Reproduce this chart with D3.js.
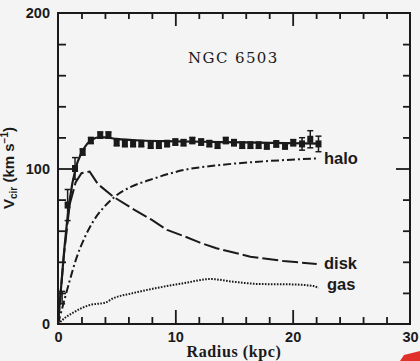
<!DOCTYPE html>
<html><head><meta charset="utf-8">
<script src="https://cdn.jsdelivr.net/npm/d3@7"></script>
<style>
html,body{margin:0;padding:0;background:#f4f4f4;}
svg{display:block;}
</style></head>
<body>
<script>
// ---- data ----
const obsR   = [0.35,0.82,1.45,2.1,2.8,3.6,4.3,5.0,5.7,6.4,7.1,7.9,8.6,9.3,10.0,10.7,11.45,12.2,12.9,13.6,14.3,15.0,15.7,16.4,17.1,17.8,18.6,19.35,20.05,20.8,21.5,22.2];
const obsV   = [17,76.5,100,110.6,118,121.5,121.5,116.6,116,116,116,115,115,116,117,116.6,118,117,116,115,118,116.6,115,115,115,114.5,115.8,114.5,116.6,115.8,118.8,115.8];
const obsErr = [4,10,7,2,2,2,2,2,2,2,2,2,2,2,2,2,2,2,2,2,2,2,2,2,2,2,2,2,2,4,5.5,5];

const totalR = [0,0.5,1,1.5,2,2.5,3,3.5,4,5,7,10,14,18,22.3];
const totalV = [0,45,80,100,110,116,119,120,120,119,118,117.5,117,116.5,116];

const haloR = [0,0.6,1.0,1.6,2.3,3.0,3.9,4.86,6.3,7.8,10.7,13.5,16.4,19.5,22.2];
const haloV = [0,17,28,43,56,66,75,82,88.5,92.6,99,102,104,105.5,106.5];

const diskR = [0,0.5,1,1.5,2,2.7,3.4,4.7,6.3,8.0,9.3,10.7,12.1,13.5,16.4,19.2,22.05];
const diskV = [0,44,77,91,97,98,90,81.9,74.4,66.9,60.5,56.6,52.3,48.7,43.3,40.5,38.6];

const gasR = [0,0.6,1.45,2.7,4.0,4.7,6.3,8.3,10.7,13.0,14.9,17.2,19.8,21.8,22.2];
const gasV = [0,4,8,12.2,13.7,16.5,19.7,23,26.2,28.9,27.2,25.7,25.5,24.4,23];

const xTickLabels = [0,10,20,30];
const yTickLabels = [0,100,200];
const curveNames = ["halo","disk","gas"];
const title = "NGC 6503";

// ---- chart ----
const W=420,H=361;
const svg=d3.select("body").append("svg").attr("width",W).attr("height",H);
svg.append("rect").attr("width",W).attr("height",H).attr("fill","#f4f4f4");

const x=d3.scaleLinear().domain([0,30]).range([58,410]);
const y=d3.scaleLinear().domain([0,200]).range([324,13]);
const ink="#1a1a1a";

// frame
svg.append("rect").attr("x",x(0)).attr("y",y(200)).attr("width",x(30)-x(0)).attr("height",y(0)-y(200))
  .attr("fill","none").attr("stroke",ink).attr("stroke-width",2);

const minorX=d3.range(2,30,2).filter(v=>v%10!==0);
const majorX=[10,20];
const minorY=d3.range(20,200,20).filter(v=>v!==100);
const majorY=[100];

function tickAxis(axisFn,scale,vals,size,transform){
  const g=svg.append("g").attr("transform",transform)
    .call(axisFn(scale).tickValues(vals).tickSize(size).tickFormat(""));
  g.select(".domain").remove();
  g.selectAll("line").attr("stroke",ink).attr("stroke-width",1.8);
}
tickAxis(d3.axisBottom,x,minorX,-7,`translate(0,${y(0)})`);
tickAxis(d3.axisBottom,x,majorX,-14,`translate(0,${y(0)})`);
tickAxis(d3.axisTop,x,minorX,-6,`translate(0,${y(200)})`);
tickAxis(d3.axisTop,x,majorX,-13,`translate(0,${y(200)})`);
tickAxis(d3.axisLeft,y,minorY,-8,`translate(${x(0)},0)`);
tickAxis(d3.axisLeft,y,majorY,-18,`translate(${x(0)},0)`);
tickAxis(d3.axisRight,y,minorY,-7,`translate(${x(30)},0)`);
tickAxis(d3.axisRight,y,majorY,-14,`translate(${x(30)},0)`);

// tick labels
const gx=svg.append("g").attr("transform",`translate(0,${y(0)})`)
  .call(d3.axisBottom(x).tickValues(xTickLabels).tickSize(0).tickPadding(8).tickFormat(d3.format("d")));
gx.select(".domain").remove();
gx.selectAll("text").attr("font-family","Liberation Sans, Arial, sans-serif").attr("font-weight","bold")
  .attr("font-size",14.5).attr("fill",ink);
const gy=svg.append("g").attr("transform",`translate(${x(0)},0)`)
  .call(d3.axisLeft(y).tickValues(yTickLabels).tickSize(0).tickPadding(8).tickFormat(d3.format("d")));
gy.select(".domain").remove();
gy.selectAll("text").attr("font-family","Liberation Sans, Arial, sans-serif").attr("font-weight","bold")
  .attr("font-size",14.5).attr("fill",ink);

// axis titles
svg.append("text").attr("x",234).attr("y",357).attr("text-anchor","middle")
  .attr("font-family","Liberation Serif, DejaVu Serif, serif").attr("font-weight","bold")
  .attr("font-size",16).attr("letter-spacing",0.6).attr("fill",ink).text("Radius (kpc)");

const yl=svg.append("text").attr("transform","translate(14,168) rotate(-90)").attr("text-anchor","middle")
  .attr("font-family","Liberation Sans, Arial, sans-serif").attr("font-weight","bold")
  .attr("font-size",15).attr("fill",ink);
yl.append("tspan").text("V");
yl.append("tspan").attr("font-size",10).attr("dy",3).text("cir");
yl.append("tspan").attr("dy",-3).text(" (km s");
yl.append("tspan").attr("font-size",10).attr("dy",-6).text("−1");
yl.append("tspan").attr("dy",6).text(")");

// title
svg.append("text").attr("x",188).attr("y",63)
  .attr("font-family","DejaVu Serif, Liberation Serif, serif")
  .attr("font-size",15).attr("letter-spacing",1.4).attr("fill",ink).text(title);

// curves
const smooth=d3.line().x(d=>x(d[0])).y(d=>y(d[1])).curve(d3.curveMonotoneX);
const straight=d3.line().x(d=>x(d[0])).y(d=>y(d[1])).curve(d3.curveLinear);
function drawCurve(R,V,dash,w,gen){
  svg.append("path").datum(R.map((r,i)=>[r,V[i]])).attr("d",gen)
    .attr("fill","none").attr("stroke",ink).attr("stroke-width",w)
    .attr("stroke-dasharray",dash);
}
drawCurve(gasR,gasV,"1.6,1.4",2,smooth);
drawCurve(haloR,haloV,"8,3,2,3",2,smooth);
drawCurve(diskR,diskV,"16,4",2,straight);
drawCurve(totalR,totalV,null,2.2,smooth);

// curve labels
const labelPos={halo:[324,164],disk:[324,269],gas:[327,290]};
curveNames.forEach(n=>{
  svg.append("text").attr("x",labelPos[n][0]).attr("y",labelPos[n][1])
    .attr("font-family","Liberation Sans, Arial, sans-serif").attr("font-weight","bold")
    .attr("font-size",16.5).attr("fill",ink).text(n);
});

// observed points
const obs=obsR.map((r,i)=>({r,v:obsV[i],e:obsErr[i]}));
const pg=svg.append("g");
obs.forEach(d=>{
  const cx=x(d.r);
  pg.append("line").attr("x1",cx).attr("x2",cx).attr("y1",y(d.v-d.e)).attr("y2",y(d.v+d.e))
    .attr("stroke",ink).attr("stroke-width",1.5);
  [d.v-d.e,d.v+d.e].forEach(v=>pg.append("line").attr("x1",cx-3).attr("x2",cx+3).attr("y1",y(v)).attr("y2",y(v))
    .attr("stroke",ink).attr("stroke-width",1.5));
  if(d.r>0.5) pg.append("rect").attr("x",cx-3).attr("y",y(d.v)-3.5).attr("width",6).attr("height",7).attr("fill",ink);
});

// red mark in the corner
svg.append("path").attr("d","M400,361 L404,355 L420,351 L420,361 Z").attr("fill","#e0302a");
</script>
</body></html>
